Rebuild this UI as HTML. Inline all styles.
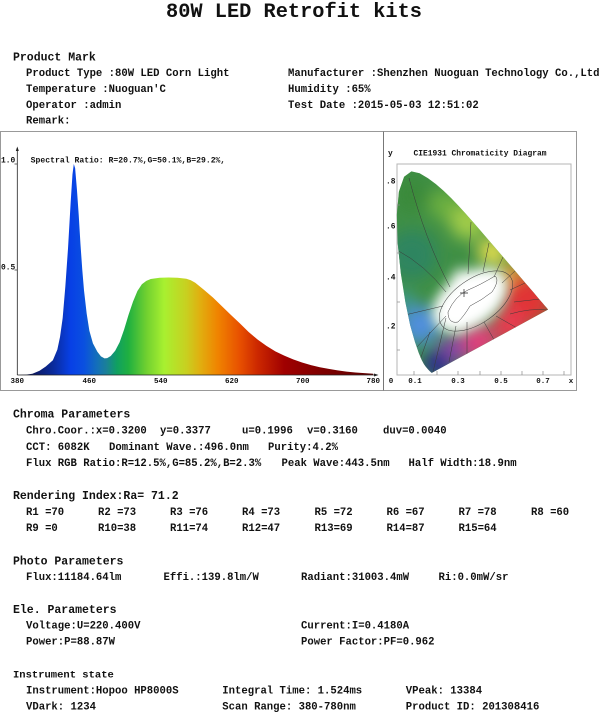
<!DOCTYPE html>
<html><head><meta charset="utf-8"><style>
html,body{margin:0;padding:0;background:#fff;width:604px;height:719px;overflow:hidden}
svg{display:block}
text{font-family:"Liberation Mono",monospace;font-weight:bold;fill:#111}
.b{font-size:10.6px}
.h{font-size:11.5px}
.s{font-size:7.9px}
.t{font-size:7.5px}
</style></head><body>
<svg width="604" height="719" viewBox="0 0 604 719" xmlns="http://www.w3.org/2000/svg">
<defs>
<linearGradient id="spec" gradientUnits="userSpaceOnUse" x1="0" y1="0" x2="400" y2="0">
<stop offset="0" stop-color="#0a1050"/>
<stop offset="0.05" stop-color="#0c1a66"/>
<stop offset="0.1" stop-color="#0a2a9a"/>
<stop offset="0.15" stop-color="#0840e6"/>
<stop offset="0.1875" stop-color="#0a50e0"/>
<stop offset="0.225" stop-color="#1470b8"/>
<stop offset="0.25" stop-color="#1a8098"/>
<stop offset="0.28" stop-color="#10a060"/>
<stop offset="0.3125" stop-color="#20b040"/>
<stop offset="0.3625" stop-color="#70d030"/>
<stop offset="0.4125" stop-color="#a8f030"/>
<stop offset="0.475" stop-color="#c8d020"/>
<stop offset="0.5125" stop-color="#e0b010"/>
<stop offset="0.5625" stop-color="#f08400"/>
<stop offset="0.625" stop-color="#e85000"/>
<stop offset="0.675" stop-color="#cc2800"/>
<stop offset="0.75" stop-color="#a00000"/>
<stop offset="0.85" stop-color="#800000"/>
<stop offset="1" stop-color="#600000"/>
</linearGradient>
<clipPath id="hs">
<path d="M432,372.8 L431.5,372.8 L430,371.4 L428.4,369.7 L425.8,366.8 L424,364.3 L421.7,360 L418.7,352.9 L414.9,341.8 L410.2,325.2 L405.4,302.3 L400.9,273.7 L397.7,243.2 L396.8,214.9 L398.9,191.7 L404.1,176.7 L411.4,171.4 L419.6,173.2 L428,178.2 L435.9,184.1 L443.5,190.7 L451,198 L458.4,205.8 L465.8,213.9 L473.2,222.2 L480.6,230.7 L487.9,239.2 L495.1,247.6 L502.1,255.8 L508.8,263.6 L515.1,270.9 L520.8,277.6 L525.8,283.5 L533.8,292.8 L539.1,299.1 L542.5,303 L544.8,305.7 L546.3,307.4 L547.1,308.4 L548.1,309.5 Z"/>
</clipPath>
<filter id="bl" x="-50%" y="-50%" width="200%" height="200%"><feGaussianBlur stdDeviation="8"/></filter>
<filter id="bl2" x="-50%" y="-50%" width="200%" height="200%"><feGaussianBlur stdDeviation="6"/></filter>
</defs>

<!-- Title -->
<text x="166" y="17" style="font-size:20px" textLength="256" lengthAdjust="spacingAndGlyphs">80W LED Retrofit kits</text>

<!-- Product Mark -->
<text class="h" x="13" y="60.5">Product Mark</text>
<text class="b" x="26" y="76.2">Product Type :80W LED Corn  Light</text>
<text class="b" x="288" y="76.2">Manufacturer :Shenzhen Nuoguan Technology Co.,Ltd</text>
<text class="b" x="26" y="92.2">Temperature :Nuoguan'C</text>
<text class="b" x="288" y="92.2">Humidity :65%</text>
<text class="b" x="26" y="107.8">Operator :admin</text>
<text class="b" x="288" y="107.8">Test Date :2015-05-03 12:51:02</text>
<text class="b" x="26" y="123.5">Remark:</text>

<!-- Chart box -->
<rect x="0.5" y="131.5" width="576" height="259" fill="none" stroke="#999" stroke-width="1"/>
<line x1="383.5" y1="131.5" x2="383.5" y2="390.5" stroke="#777" stroke-width="1"/>

<!-- Spectrum -->
<g transform="translate(17.3,375) scale(0.8898,-211)">
<path fill="url(#spec)" d="M0,0 L10,0.002 L17,0.006 L25,0.02 L32,0.04 L40,0.07 L45,0.12 L48,0.18 L51,0.27 L54,0.42 L57,0.6 L60,0.82 L62,0.95 L63.5,1.0 L65,0.98 L67,0.88 L69,0.76 L71,0.62 L73,0.5 L75,0.4 L78,0.29 L81,0.21 L85,0.15 L90,0.11 L94,0.088 L98,0.079 L101,0.08 L105,0.09 L110,0.115 L115,0.155 L120,0.215 L125,0.285 L130,0.347 L135,0.398 L140,0.43 L145,0.446 L150,0.455 L160,0.461 L170,0.462 L180,0.461 L190,0.456 L195,0.449 L200,0.437 L205,0.42 L210,0.403 L220,0.367 L230,0.326 L240,0.285 L250,0.245 L260,0.204 L270,0.168 L280,0.138 L290,0.112 L300,0.092 L310,0.074 L320,0.059 L330,0.047 L340,0.037 L350,0.029 L360,0.022 L370,0.016 L380,0.012 L390,0.009 L400,0.006 L400,0 Z"/>
</g>
<line x1="17.3" y1="148" x2="17.3" y2="375" stroke="#222" stroke-width="0.8"/>
<line x1="17.3" y1="375" x2="377" y2="375" stroke="#222" stroke-width="0.8"/>
<path d="M15.8,151 L17.3,146.5 L18.8,151 Z" fill="#222"/>
<path d="M374,373.5 L378.5,375 L374,376.5 Z" fill="#222"/>
<line x1="14.5" y1="164" x2="17.3" y2="164" stroke="#222" stroke-width="0.7"/>
<line x1="14.5" y1="270" x2="17.3" y2="270" stroke="#222" stroke-width="0.7"/>
<text class="s" x="1" y="162.7">1.0</text>
<text class="s" x="1" y="269.4">0.5</text>
<text class="s" x="30.7" y="162.7" textLength="194.6" lengthAdjust="spacingAndGlyphs">Spectral Ratio:  R=20.7%,G=50.1%,B=29.2%,</text>
<g text-anchor="middle">
<text class="t" x="17.3" y="382.8">380</text>
<text class="t" x="89.3" y="382.8">460</text>
<text class="t" x="160.7" y="382.8">540</text>
<text class="t" x="231.7" y="382.8">620</text>
<text class="t" x="302.7" y="382.8">700</text>
<text class="t" x="373.3" y="382.8">780</text>
</g>

<!-- CIE -->
<text class="s" x="388" y="155.4">y</text>
<text class="s" x="480" y="155.4" text-anchor="middle" textLength="133" lengthAdjust="spacingAndGlyphs">CIE1931 Chromaticity Diagram</text>
<rect x="397" y="164" width="174" height="211" fill="none" stroke="#b5b5b5" stroke-width="1"/>
<g clip-path="url(#hs)">
<rect x="390" y="160" width="170" height="220" fill="#3f8f45"/>
<g filter="url(#bl)">
<circle cx="412" cy="255" r="25" fill="#2f8560"/>
<circle cx="412" cy="195" r="18" fill="#3a8a3a"/>
<circle cx="445" cy="205" r="16" fill="#6aaf40"/>
<circle cx="468" cy="222" r="18" fill="#a0cc48"/>
<circle cx="492" cy="252" r="14" fill="#e8e050"/>
<circle cx="512" cy="275" r="12" fill="#f09a30"/>
<circle cx="528" cy="300" r="25" fill="#e03434"/>
<circle cx="510" cy="325" r="18" fill="#e83a50"/>
<circle cx="478" cy="342" r="18" fill="#e0407a"/>
<circle cx="452" cy="350" r="14" fill="#8a45a8"/>
<circle cx="437" cy="364" r="14" fill="#2c2c90"/>
<circle cx="420" cy="325" r="20" fill="#4f8fdc"/>
<circle cx="404" cy="300" r="9" fill="#3a9aa0"/>
</g>
<g filter="url(#bl2)">
<ellipse cx="470" cy="300" rx="42" ry="26" transform="rotate(-35 470 300)" fill="#fff"/>
<circle cx="458" cy="322" r="12" fill="#fff"/>
<ellipse cx="462" cy="282" rx="12" ry="14" fill="#fff" opacity="0.7"/>
</g>
<g fill="none" stroke="#3a3a3a" stroke-width="0.5">
<ellipse cx="476" cy="301" rx="42" ry="22" transform="rotate(-35 476 301)"/>
<path d="M448,312 Q455,296 468,290 Q480,285 495,276 Q500,280 492,292 Q482,300 470,306 Q464,316 458,322 Q448,324 448,312 Z"/>
<path d="M409,178 Q425,240 450,287"/>
<path d="M397,250 Q425,265 446,292"/>
<path d="M405,315 L443,306"/>
<path d="M471,222 L468,274"/>
<path d="M489,243 L483,272"/>
<path d="M503,257 L494,277"/>
<path d="M515,271 L502,283"/>
<path d="M525,283 L510,290"/>
<path d="M540,299 L514,302"/>
<path d="M548,310 Q530,308 510,314"/>
<path d="M467,322 L467,354"/>
<path d="M456,326 L449,362"/>
<path d="M446,318 L433,372"/>
<path d="M484,322 L497,345"/>
<path d="M496,316 L524,332"/>
<path d="M446,316 L417,347"/>
<path d="M430,332 L420,360"/>
</g>
<g stroke="#222" stroke-width="0.7">
<line x1="460" y1="293" x2="468" y2="293"/>
<line x1="464" y1="289" x2="464" y2="297"/>
</g>
</g>
<g stroke="#888" stroke-width="0.7">
<line x1="414" y1="375" x2="414" y2="371"/>
<line x1="437" y1="375" x2="437" y2="371"/>
<line x1="458" y1="375" x2="458" y2="371"/>
<line x1="480" y1="375" x2="480" y2="371"/>
<line x1="501" y1="375" x2="501" y2="371"/>
<line x1="522" y1="375" x2="522" y2="371"/>
<line x1="543" y1="375" x2="543" y2="371"/>
<line x1="564" y1="375" x2="564" y2="371"/>
<line x1="397" y1="205" x2="400" y2="205"/>
<line x1="397" y1="253" x2="400" y2="253"/>
<line x1="397" y1="302" x2="400" y2="302"/>
<line x1="397" y1="350" x2="400" y2="350"/>
</g>
<text class="s" x="386" y="183.4">.8</text>
<text class="s" x="386" y="228.7">.6</text>
<text class="s" x="386" y="279.4">.4</text>
<text class="s" x="386" y="328.4">.2</text>
<g text-anchor="middle">
<text class="t" x="391" y="382.8">0</text>
<text class="t" x="415" y="382.8">0.1</text>
<text class="t" x="458" y="382.8">0.3</text>
<text class="t" x="501" y="382.8">0.5</text>
<text class="t" x="543" y="382.8">0.7</text>
<text class="t" x="571" y="382.8">x</text>
</g>

<!-- Chroma Parameters -->
<text class="h" x="13" y="417.5">Chroma Parameters</text>
<text class="b" x="26" y="433.5">Chro.Coor.:x=0.3200</text>
<text class="b" x="160" y="433.5">y=0.3377</text>
<text class="b" x="242" y="433.5">u=0.1996</text>
<text class="b" x="307" y="433.5">v=0.3160</text>
<text class="b" x="383" y="433.5">duv=0.0040</text>
<text class="b" x="26" y="450">CCT: 6082K</text>
<text class="b" x="109" y="450">Dominant Wave.:496.0nm</text>
<text class="b" x="268" y="450">Purity:4.2%</text>
<text class="b" x="26" y="466.2">Flux RGB Ratio:R=12.5%,G=85.2%,B=2.3%</text>
<text class="b" x="281.5" y="466.2">Peak Wave:443.5nm</text>
<text class="b" x="408.5" y="466.2">Half Width:18.9nm</text>

<!-- Rendering -->
<text class="h" x="13" y="499">Rendering Index:Ra= 71.2</text>
<text class="b" x="26" y="515.2">R1 =70</text>
<text class="b" x="98" y="515.2">R2 =73</text>
<text class="b" x="170" y="515.2">R3 =76</text>
<text class="b" x="242" y="515.2">R4 =73</text>
<text class="b" x="314.5" y="515.2">R5 =72</text>
<text class="b" x="386.5" y="515.2">R6 =67</text>
<text class="b" x="458.5" y="515.2">R7 =78</text>
<text class="b" x="531" y="515.2">R8 =60</text>
<text class="b" x="26" y="531.2">R9 =0</text>
<text class="b" x="98" y="531.2">R10=38</text>
<text class="b" x="170" y="531.2">R11=74</text>
<text class="b" x="242" y="531.2">R12=47</text>
<text class="b" x="314.5" y="531.2">R13=69</text>
<text class="b" x="386.5" y="531.2">R14=87</text>
<text class="b" x="458.5" y="531.2">R15=64</text>

<!-- Photo -->
<text class="h" x="13" y="564.7">Photo Parameters</text>
<text class="b" x="26" y="580.2">Flux:11184.64lm</text>
<text class="b" x="163.5" y="580.2">Effi.:139.8lm/W</text>
<text class="b" x="301" y="580.2">Radiant:31003.4mW</text>
<text class="b" x="438.5" y="580.2">Ri:0.0mW/sr</text>

<!-- Ele -->
<text class="h" x="13" y="613">Ele. Parameters</text>
<text class="b" x="26" y="628.5">Voltage:U=220.400V</text>
<text class="b" x="301" y="628.5">Current:I=0.4180A</text>
<text class="b" x="26" y="644.5">Power:P=88.87W</text>
<text class="b" x="301" y="644.5">Power Factor:PF=0.962</text>

<!-- Instrument -->
<text x="13" y="677.5" style="font-size:10.5px">Instrument state</text>
<text class="b" x="26" y="693.5">Instrument:Hopoo HP8000S</text>
<text class="b" x="222.3" y="693.5">Integral Time: 1.524ms</text>
<text class="b" x="405.8" y="693.5">VPeak: 13384</text>
<text class="b" x="26" y="709.5">VDark: 1234</text>
<text class="b" x="222.3" y="709.5">Scan Range: 380-780nm</text>
<text class="b" x="405.8" y="709.5">Product ID: 201308416</text>
</svg>
</body></html>
